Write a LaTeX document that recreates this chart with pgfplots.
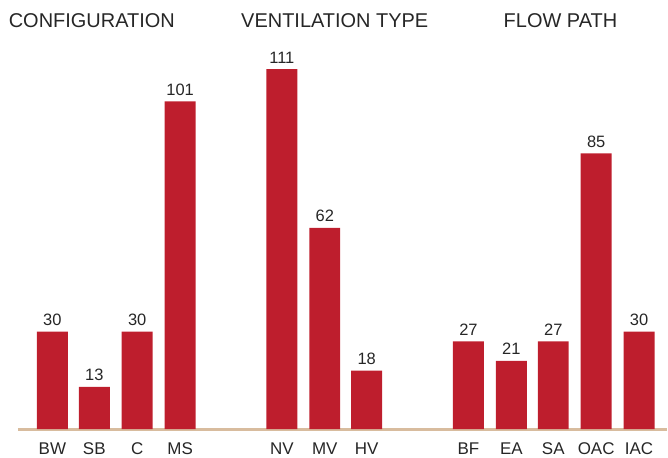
\documentclass[border=0pt]{standalone}
\usepackage{pgfplots}
\pgfplotsset{compat=1.18}
\usepackage{fontspec}
\setmainfont{Liberation Sans}
\definecolor{barred}{HTML}{BE1E2D}
\definecolor{basetan}{HTML}{D8BC9E}
\definecolor{txt}{HTML}{262626}

\begin{document}
\begin{tikzpicture}
\begin{axis}[
  x=1bp, y=3.25bp,
  xmin=0, xmax=668, ymin=0, ymax=132.3,
  clip=false,
  hide y axis,
  axis x line*=bottom,
  x axis line style={draw=none},
  major tick length=0pt,
  /pgf/number format/assume math mode=true,
  xtick={52.5,94.5,137.5,180.5,282.5,325.5,367.5,469.5,512.5,554.5,597.5,640.5},
  xticklabels={BW,SB,C,MS,NV,MV,HV,BF,EA,SA,OAC,IAC},
  xticklabel style={anchor=base, yshift=-25.5bp, text=txt,
    font=\fontsize{17bp}{18bp}\selectfont},
  bars/.style={ybar, bar width=31bp, bar shift=0pt, fill=barred, draw=none,
    nodes near coords,
    every node near coord/.append style={text=txt, yshift=2.5bp,
      font=\fontsize{16.5bp}{18bp}\selectfont}},
]
  % figure frame
  \path (axis cs:0,-8.31) rectangle (axis cs:668,132.3);

  % baseline
  \addplot[basetan, line width=3bp, mark=none] coordinates {(18,0) (668,0)};

  % configuration
  \addplot[bars] coordinates
    {(52.5,30) (94.5,13) (137.5,30) (180.5,101)};
  % ventilation type
  \addplot[bars] coordinates
    {(282.5,111) (325.5,62) (367.5,18)};
  % flow path
  \addplot[bars] coordinates
    {(469.5,27) (512.5,21) (554.5,27) (597.5,85) (640.5,30)};

  \node[anchor=base, text=txt, font=\fontsize{20bp}{22bp}\selectfont]
    at (axis cs:92,123.9) {CONFIGURATION};
  \node[anchor=base, text=txt, font=\fontsize{20bp}{22bp}\selectfont]
    at (axis cs:335.5,123.9) {VENTILATION TYPE};
  \node[anchor=base, text=txt, font=\fontsize{20bp}{22bp}\selectfont]
    at (axis cs:561.7,123.9) {FLOW PATH};
\end{axis}
\end{tikzpicture}
\end{document}
